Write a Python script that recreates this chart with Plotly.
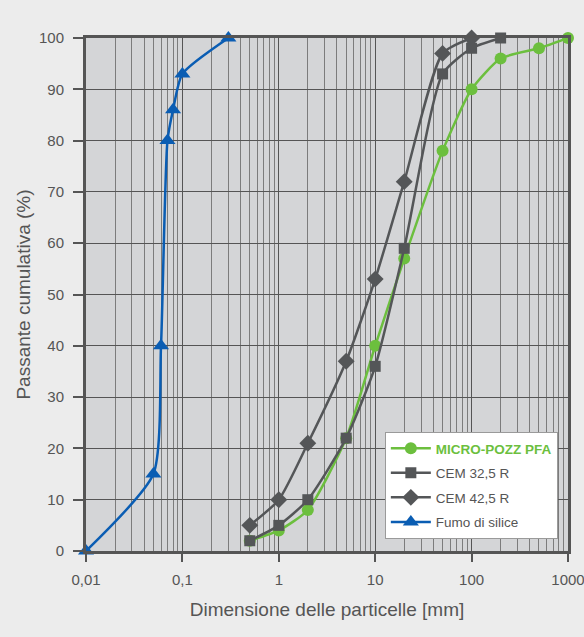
import plotly.graph_objects as go

# Data
pfa_x = [0.5, 1, 2, 5, 10, 20, 50, 100, 200, 500, 1000]
pfa_y = [2, 4, 8, 22, 40, 57, 78, 90, 96, 98, 100]

cem32_x = [0.5, 1, 2, 5, 10, 20, 50, 100, 200]
cem32_y = [2, 5, 10, 22, 36, 59, 93, 98, 100]

cem42_x = [0.5, 1, 2, 5, 10, 20, 50, 100]
cem42_y = [5, 10, 21, 37, 53, 72, 97, 100]

fumo_x = [0.01, 0.05, 0.06, 0.07, 0.08, 0.1, 0.3]
fumo_y = [0, 15, 40, 80, 86, 93, 100]

x_tickvals = [0.01, 0.1, 1, 10, 100, 1000]
x_ticktext = ["0,01", "0,1", "1", "10", "100", "1000"]
y_tickvals = [0, 10, 20, 30, 40, 50, 60, 70, 80, 90, 100]

GREEN = "#6cbf3e"
GRAY = "#545658"
BLUE = "#0a5db3"
TEXT = "#555555"

fig = go.Figure()

fig.add_trace(go.Scatter(
    x=pfa_x, y=pfa_y, mode="lines+markers", legendgroup="a",
    name="<b><span style='color:%s'>MICRO-POZZ PFA</span></b>" % GREEN,
    line=dict(color=GREEN, width=2.5, shape="spline", smoothing=0.6),
    marker=dict(symbol="circle", size=12, color=GREEN),
    cliponaxis=False,
))
fig.add_trace(go.Scatter(
    x=cem32_x, y=cem32_y, mode="lines+markers", name="CEM 32,5 R", legendgroup="b",
    line=dict(color=GRAY, width=2.5, shape="spline", smoothing=0.6),
    marker=dict(symbol="square", size=11, color=GRAY),
    cliponaxis=False,
))
fig.add_trace(go.Scatter(
    x=cem42_x, y=cem42_y, mode="lines+markers", name="CEM 42,5 R", legendgroup="c",
    line=dict(color=GRAY, width=2.5, shape="spline", smoothing=0.6),
    marker=dict(symbol="diamond", size=13, color=GRAY),
    cliponaxis=False,
))
fig.add_trace(go.Scatter(
    x=fumo_x, y=fumo_y, mode="lines+markers", name="Fumo di silice", legendgroup="d",
    line=dict(color=BLUE, width=2.5, shape="spline", smoothing=0.6),
    marker=dict(symbol="triangle-up", size=14, color=BLUE),
    cliponaxis=False,
))

fig.update_layout(
    width=584, height=637,
    margin=dict(l=86, r=16, t=38, b=86),
    paper_bgcolor="#ececec",
    plot_bgcolor="#d4d5d7",
    font=dict(family="Liberation Sans, Arial, sans-serif", size=15.5, color=TEXT),
    showlegend=True,
    legend=dict(
        x=0.62, y=0.232, xanchor="left", yanchor="top",
        bgcolor="#ffffff", bordercolor="#9a9a9a", borderwidth=1,
        font=dict(size=13.5, color=TEXT),
        itemwidth=40, tracegroupgap=4,
    ),
    xaxis=dict(
        type="log", range=[-2, 3], automargin=False,
        tickvals=x_tickvals, ticktext=x_ticktext,
        ticks="outside", ticklen=8, tickwidth=2, tickcolor="#555",
        ticklabeloverflow="allow", ticklabelstandoff=5,
        showline=True, linecolor="#555", linewidth=3, mirror=True,
        showgrid=True, gridcolor="#555", gridwidth=1.2,
        minor=dict(dtick="D1", showgrid=True, gridcolor="#7c7c7c", gridwidth=1.2, ticks=""),
        zeroline=False,
        title=dict(text="Dimensione delle particelle [mm]", standoff=16),
        tickfont=dict(size=15, color=TEXT),
    ),
    yaxis=dict(
        range=[0, 100], tickvals=y_tickvals, automargin=False,
        ticks="outside", ticklen=10, tickwidth=2, tickcolor="#555",
        ticklabelstandoff=6,
        showline=True, linecolor="#555", linewidth=3, mirror=True,
        showgrid=True, gridcolor="#555", gridwidth=1.2,
        zeroline=False,
        title=dict(text="Passante cumulativa (%)", standoff=4),
        tickfont=dict(size=15, color=TEXT),
    ),
)

fig.write_html(
    "out.html",
    config={"displayModeBar": False},
    post_script="document.body.style.margin='0';document.body.style.background='#ececec';",
)
